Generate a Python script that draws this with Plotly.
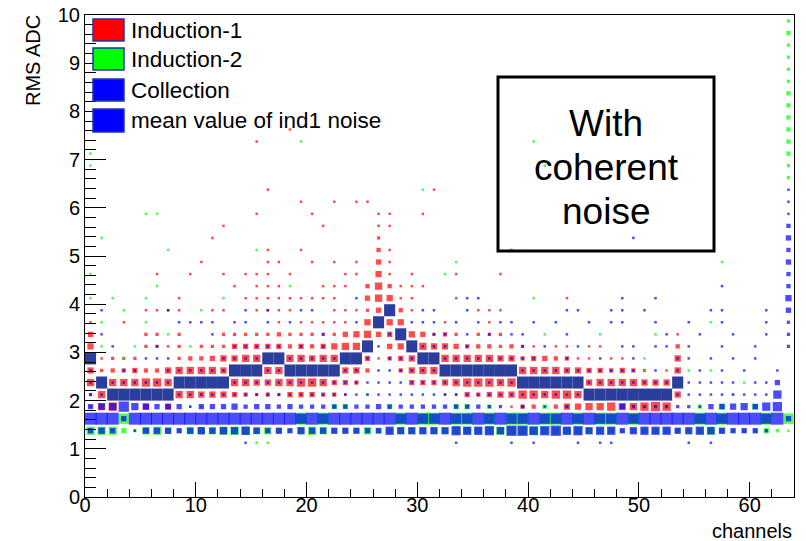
import plotly.graph_objects as go

# ---------------- data ----------------
n_channels = 64
y_bin_width = 0.25
x_ticks = [0, 10, 20, 30, 40, 50, 60]
y_ticks = [0, 1, 2, 3, 4, 5, 6, 7, 8, 9, 10]

# Each row: key = RMS bin centre, value = relative box size per channel
# (64 channels, written as 8 groups of 8; 0..9, A=10, B=11 = full bin)
red_rows = {
    1.875: "16700505 00000000 00000000 00000000 00000013 30355667 66787000 00000000",
    2.125: "16000000 66555432 32444331 00000000 11434557 76776000 00000500 00000000",
    2.375: "60666776 00000665 56677644 30000444 56777670 00000566 66555000 00000000",
    2.625: "52334335 66665000 66000005 53003566 00000006 66655443 43201500 00000000",
    2.875: "01222000 23345566 00665660 04134500 66666553 44331101 10000500 00000000",
    3.125: "50000221 20222444 44343456 60045065 54333232 10110110 00000300 00000000",
    3.375: "40000220 20002222 23222224 56440542 32022200 00000000 00000100 00000000",
    3.625: "10010000 00000000 01011111 05055000 10001000 00000000 00000000 00000000",
    3.875: "00000111 10011001 11100011 12403100 00011100 00000000 00000000 00000000",
    4.125: "00000000 10000011 11111110 04651100 01000000 00010000 00000000 00000000",
    4.375: "00000000 00000101 11000111 03631110 00000000 00000000 00000000 00000000",
    4.625: "00000010 01001011 10100001 10510100 01000100 00000000 00000000 00000000",
    4.875: "00000000 00100000 11001010 10410000 00000000 00000000 00000000 00000000",
    5.125: "00000000 00000000 10010000 00310000 00000010 00000000 00000000 00000000",
    5.375: "00000000 00010000 00000000 00200000 00000000 00000000 00000000 00000000",
    5.625: "00000000 00001000 00000100 00110000 00000000 00000000 00000000 00000000",
    5.875: "00000000 00000001 00001000 00110010 00000000 00000000 00000000 00000000",
    6.125: "00000000 00000000 00010010 11000000 00000000 00000000 00000000 00000000",
    6.375: "00000000 00000000 10000000 00000001 00000000 00000000 00000000 00000000",
    7.375: "00000000 00000001 00000000 00000000 00000000 00000000 00000000 00000000",
    7.625: "00000000 00000000 00100000 00000000 00000000 00000000 00000000 00000000",
}

green_rows = {
    1.125: "00000000 00000001 10000000 00000000 00000000 00000000 00000000 00000000",
    1.375: "77742675 36667776 64357644 46555555 56666777 86666555 34555445 74333421",
    1.625: "00090000 00000000 000B0B00 0000B0BB 0BB0B0BB 0BB0B0BB 0B00000B 0B000B09",
    1.875: "00000000 01100000 00000044 00040000 04403000 03000000 00000003 05005000",
    2.125: "00000000 00000000 00000000 01000000 00000000 00000000 00000000 00100000",
    2.375: "00000000 00000000 00000000 00000000 00000000 00000000 00000000 00010000",
    2.625: "00000000 00000000 00000000 00000000 00000000 00000000 00100010 10000000",
    2.875: "00010000 00000000 00000000 00000000 00000000 00000000 00100000 00000000",
    3.125: "01001000 01000000 00000000 00000000 00000000 00000000 00000000 00000000",
    3.375: "00000001 00000000 00000000 00000000 00000000 01000010 00010000 00000000",
    3.625: "01000100 00000000 00000000 00000000 00000000 00000000 00000000 10000000",
    3.875: "00010000 00100000 00000000 00000000 00000000 00000000 00000000 00000000",
    4.125: "10100100 00001000 00000000 00000000 00000000 10000000 00000000 00000000",
    4.375: "00000010 00000000 00100000 00000000 00000000 00000000 00000000 00000000",
    4.625: "10000000 00000000 00000000 00000000 10000000 00000000 00000000 00000000",
    4.875: "00000000 00000000 00000000 00000000 01000000 00000000 00000000 01000000",
    5.125: "00000001 00000001 00000000 00000000 00000000 00000000 00000000 00000000",
    5.375: "01000000 00000000 00000000 00000000 00000000 00000000 00000000 00000000",
    5.875: "00000110 00000000 00000000 00000000 00000000 00000000 00000000 00000000",
    6.375: "00000000 00000000 00000000 00000010 00000000 00000000 00000000 00000000",
    6.625: "00000000 00000000 00000000 00000000 00000000 00000000 00000000 00000002",
    6.875: "10000000 00000000 00000000 00000000 00000000 01000000 00000000 00000002",
    7.125: "10000000 00000000 00000000 00000000 00000000 00000000 00000000 00000003",
    7.375: "00000000 00000000 00010000 00000000 00000000 10000000 00000000 00000003",
    7.625: "00000000 00000000 00000000 00000000 00000000 00000000 00000000 00000003",
    7.875: "00000000 00000000 00000000 00000000 00000000 00000000 00000000 00000003",
    8.125: "00000000 00000000 00000000 00000000 00000000 00000000 00000000 00000003",
    8.375: "00000000 00000000 00000000 00000000 00000000 00000000 00000000 00000003",
    8.625: "00000000 00000000 00000000 00000000 00000000 00000000 00000000 00000002",
    8.875: "00000000 00000000 00000000 00000000 00000000 00000000 00000000 00000002",
    9.125: "00000000 00000000 00000000 00000000 00000000 00000000 00000000 00000002",
    9.375: "00000000 00000000 00000000 00000000 00000000 00000000 00000000 00000002",
    9.625: "00000000 00000000 00000000 00000000 00000000 00000000 00000000 00000003",
    9.875: "00000000 00000000 00000000 00000000 00000000 00000000 00000000 00000002",
}

blue_rows = {
    1.125: "00000000 00000010 00000000 00000000 01000010 10001011 00000010 10000000",
    1.375: "45401555 45656675 45465555 54476666 68778699 78978677 46777567 65444200",
    1.625: "BBB4BBBB BBBBBBBB BBB9B9BB BBBB9B99 B99B9B99 B99B9B99 B9BBBBB9 B9BBB9B4",
    1.875: "45696544 41444534 43433333 33433333 33332202 01020000 42222221 44564780",
    2.125: "21000000 11111111 11111111 11111111 11111111 11111000 00000111 11111170",
    2.375: "10111111 00000111 11111111 11111111 11111110 00000111 11111011 11101140",
    2.625: "10011001 11111000 11000001 10111111 00000001 11111111 11010101 01010010",
    2.875: "00000111 00001111 00111110 01011100 11111111 10010010 01000110 10101000",
    3.125: "00100010 00000111 11010100 00100011 10100001 01001000 11011010 01001002",
    3.375: "01000000 00010000 00000100 00010001 10101011 00010000 00001001 00100102",
    3.625: "00000000 11110110 10100000 10000111 01010110 10100101 10010010 01000102",
    3.875: "01000001 00000010 10011000 00000011 00100000 00011001 10100000 11000104",
    4.125: "00000000 00000000 00000000 10000000 00110000 00000000 10010000 00000005",
    4.375: "00000000 00000000 00000000 00000000 00000000 00000000 00000000 01000003",
    4.625: "00000000 00000000 00000000 00000000 00000000 00000000 00000000 00000003",
    4.875: "00000000 00000000 00000000 00000000 00000000 00000000 00000000 00000004",
    5.125: "00000000 00000000 00000000 00000000 00000000 00000000 00000000 00000003",
    5.375: "00000000 00000000 00000000 00000000 00000000 00000000 01000000 00000004",
    5.625: "00000000 00000000 00000000 00000000 00000000 00000000 00000000 00000003",
    5.875: "00000000 00000000 00000000 00000000 00000000 00000000 00000000 00000001",
    6.125: "00000000 00000000 00000000 00000000 00000000 00000000 00000000 00000001",
    6.375: "00000000 00000000 00000000 00000000 00000000 00000000 00000000 00000001",
}

# mean RMS of Induction-1 channels 0..53 (bin centre)
ind1_mean = [2.875, 2.375, 2.125, 2.125, 2.125, 2.125, 2.125, 2.125,
             2.375, 2.375, 2.375, 2.375, 2.375, 2.625, 2.625, 2.625,
             2.875, 2.875, 2.625, 2.625, 2.625, 2.625, 2.625, 2.875,
             2.875, 3.125, 3.625, 3.875, 3.375, 3.125, 2.875, 2.875,
             2.625, 2.625, 2.625, 2.625, 2.625, 2.625, 2.625, 2.375,
             2.375, 2.375, 2.375, 2.375, 2.375, 2.125, 2.125, 2.125,
             2.125, 2.125, 2.125, 2.125, 2.125, 2.375]

legend_labels = ["Induction-1", "Induction-2", "Collection", "mean value of ind1 noise"]
legend_colors = ["#ff0000", "#00ff00", "#0000ff", "#0000ff"]
box_text = ["With", "coherent", "noise"]

# ---------------- helpers ----------------
def parse(rows):
    xs, ys, ss = [], [], []
    for yc, s in rows.items():
        s = s.replace(" ", "")
        assert len(s) == n_channels, (yc, len(s))
        for ch, c in enumerate(s):
            v = int(c, 16)
            if v:
                xs.append(ch + 0.5)
                ys.append(yc)
                ss.append(2.5 if v == 1 else min(v + 1.3, 12.0))
    return xs, ys, ss

W, H = 806, 541
L, R, T, B = 85, 12, 15, 44
PW, PH = W - L - R, H - T - B

def px(p):
    return (p - L) / PW

def py(p):
    return (H - B - p) / PH

FONT = "Liberation Sans, Arial, Helvetica, sans-serif"

fig = go.Figure()

for rows, col in [(red_rows, "#ff0000"), (green_rows, "#00ff00"), (blue_rows, "#0000ff")]:
    xs, ys, ss = parse(rows)
    fig.add_trace(go.Scatter(
        x=xs, y=ys, mode="markers",
        marker=dict(symbol="square", size=ss, color=col, line=dict(width=0)),
        hoverinfo="skip", showlegend=False))

fig.add_trace(go.Bar(
    x=[c + 0.5 for c in range(len(ind1_mean))],
    y=[y_bin_width] * len(ind1_mean),
    base=[m - y_bin_width / 2 for m in ind1_mean],
    width=1.0,
    marker=dict(color="#2b3d9d", line=dict(width=0)),
    hoverinfo="skip", showlegend=False))

axis_common = dict(
    showline=True, linecolor="black", linewidth=1, mirror=True,
    showgrid=False, zeroline=False, ticks="inside", tickcolor="black",
    tickwidth=1, tickfont=dict(family=FONT, size=20, color="black"),
    automargin=False,
)
fig.update_xaxes(range=[0, n_channels], tickvals=x_ticks, ticklen=15,
                 ticklabelstandoff=-10,
                 minor=dict(dtick=2, tick0=0, ticks="inside", ticklen=8,
                            tickcolor="black", showgrid=False),
                 **axis_common)
fig.update_yaxes(range=[0, 10], tickvals=y_ticks, ticklen=21,
                 minor=dict(dtick=0.2, tick0=0, ticks="inside", ticklen=11,
                            tickcolor="black", showgrid=False),
                 **axis_common)

shapes = []
annotations = []

# legend
leg_box_y = [(19, 41), (48, 70), (79, 101), (109, 132)]
leg_text_y = [30, 59, 90, 120]
for lab, col, (y0, y1), yt in zip(legend_labels, legend_colors, leg_box_y, leg_text_y):
    shapes.append(dict(type="rect", xref="paper", yref="paper",
                       x0=px(93), x1=px(124), y0=py(y1), y1=py(y0),
                       fillcolor=col, line=dict(color="#2233aa", width=1.5)))
    annotations.append(dict(text=lab, xref="paper", yref="paper",
                            x=px(129), y=py(yt), xanchor="left", yanchor="middle",
                            showarrow=False,
                            font=dict(family=FONT, size=22.5, color="black")))

# text box
shapes.append(dict(type="rect", xref="paper", yref="paper",
                   x0=px(498), x1=px(714), y0=py(251), y1=py(77),
                   line=dict(color="black", width=3), fillcolor="rgba(0,0,0,0)"))
for t, yt in zip(box_text, [124, 167, 211]):
    annotations.append(dict(text=t, xref="paper", yref="paper",
                            x=px(606), y=py(yt), xanchor="center", yanchor="middle",
                            showarrow=False,
                            font=dict(family=FONT, size=37, color="black")))

# axis titles
annotations.append(dict(text="RMS ADC", xref="paper", yref="paper",
                        x=px(33), y=py(61), xanchor="center", yanchor="middle",
                        textangle=-90, showarrow=False,
                        font=dict(family=FONT, size=20, color="black")))
annotations.append(dict(text="channels", xref="paper", yref="paper",
                        x=px(794), y=py(531), xanchor="right", yanchor="middle",
                        showarrow=False,
                        font=dict(family=FONT, size=20, color="black")))

fig.update_layout(
    width=W, height=H,
    margin=dict(l=L, r=R, t=T, b=B, pad=0, autoexpand=False),
    paper_bgcolor="white", plot_bgcolor="white",
    barmode="overlay",
    shapes=shapes, annotations=annotations,
    font=dict(family=FONT),
    showlegend=False,
)

fig.write_html("out.html")
